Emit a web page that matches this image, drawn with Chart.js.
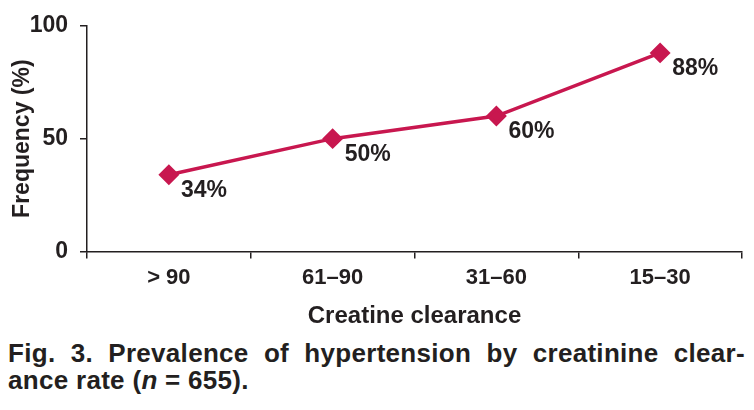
<!DOCTYPE html>
<html lang="en">
<head>
    <meta charset="UTF-8">
    <title>Prevalence of hypertension by creatinine clearance</title>
    <script src="https://cdn.jsdelivr.net/npm/chart.js"></script>
    <style>
        body {
            margin: 0;
            background: #fff;
            font-family: 'Liberation Sans', Arial, sans-serif;
            color: #231f20;
        }
        #wrap {
            width: 754px;
            height: 334px;
            position: relative;
        }
        .caption {
            font-family: 'Liberation Sans', Arial, sans-serif;
            font-weight: bold;
            font-size: 26px;
            letter-spacing: 0.3px;
            line-height: 27px;
            width: 737px;
            margin: 6px 0 0 8px;
        }
        .caption .l1 {
            text-align: justify;
            text-align-last: justify;
        }
    </style>
</head>
<body>
    <div id="wrap"><canvas id="chart"></canvas></div>
    <div class="caption">
        <div class="l1">Fig. 3. Prevalence of hypertension by creatinine clear-</div>
        <div>ance rate (<i>n</i> = 655).</div>
    </div>

    <script>
        const categories = ["> 90", "61–90", "31–60", "15–30"];
        const frequency = [34, 50, 60, 88];
        const yTicks = [0, 50, 100];

        const textColor = "#231f20";
        const lineColor = "#c8174f";
        const fontFamily = "'Liberation Sans', Arial, sans-serif";

        // draw "34%" etc. below-right of each marker
        const valueLabels = {
            id: "valueLabels",
            afterDatasetsDraw(chart) {
                const ctx = chart.ctx;
                const meta = chart.getDatasetMeta(0);
                ctx.save();
                ctx.font = "bold 23px " + fontFamily;
                ctx.fillStyle = textColor;
                ctx.textAlign = "left";
                ctx.textBaseline = "alphabetic";
                meta.data.forEach((pt, i) => {
                    ctx.fillText(frequency[i] + "%", pt.x + 12, pt.y + 22);
                });
                ctx.restore();
            }
        };

        new Chart(document.getElementById("chart"), {
            type: "line",
            data: {
                labels: categories,
                datasets: [{
                    data: frequency,
                    borderColor: lineColor,
                    backgroundColor: lineColor,
                    borderWidth: 3.5,
                    pointStyle: "rectRot",
                    pointRadius: 8,
                    pointHoverRadius: 8,
                    tension: 0
                }]
            },
            options: {
                responsive: true,
                maintainAspectRatio: false,
                animation: false,
                layout: { padding: { top: 21, right: 12, left: 0, bottom: 0 } },
                plugins: {
                    legend: { display: false },
                    tooltip: { enabled: false }
                },
                scales: {
                    x: {
                        offset: true,
                        grid: {
                            offset: true,
                            drawOnChartArea: false,
                            color: textColor,
                            lineWidth: 1.5,
                            tickLength: 7
                        },
                        border: { color: textColor, width: 1.5 },
                        ticks: {
                            color: textColor,
                            padding: 6,
                            font: { family: fontFamily, size: 22, weight: "bold" }
                        },
                        title: {
                            display: true,
                            text: "Creatine clearance",
                            color: textColor,
                            font: { family: fontFamily, size: 24, weight: "bold" },
                            padding: { top: 0, bottom: 3 }
                        },
                        afterFit(scale) { scale.height = 82.5; }
                    },
                    y: {
                        min: 0,
                        max: 100,
                        afterBuildTicks(scale) {
                            scale.ticks = yTicks.map(v => ({ value: v }));
                        },
                        grid: {
                            drawOnChartArea: false,
                            color: textColor,
                            lineWidth: 1.5,
                            tickLength: 7
                        },
                        border: { color: textColor, width: 1.5 },
                        ticks: {
                            color: textColor,
                            padding: 12,
                            font: { family: fontFamily, size: 23, weight: "bold" }
                        },
                        title: {
                            display: true,
                            text: "Frequency (%)",
                            color: textColor,
                            font: { family: fontFamily, size: 23, weight: "bold" },
                            padding: { top: 9, bottom: 0 }
                        },
                        afterFit(scale) { scale.width = 87; }
                    }
                }
            },
            plugins: [valueLabels]
        });
    </script>
</body>
</html>
